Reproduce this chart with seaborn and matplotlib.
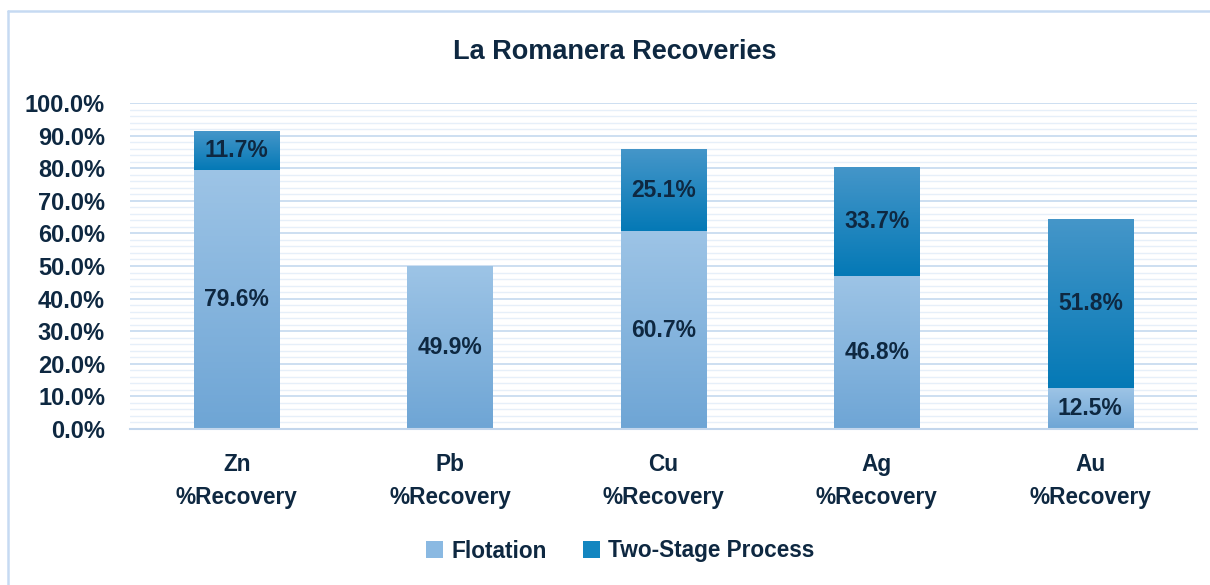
import numpy as np
import matplotlib
matplotlib.use("Agg")
import matplotlib.pyplot as plt
import seaborn as sns
from matplotlib.colors import LinearSegmentedColormap
from matplotlib.patches import Patch
from matplotlib.lines import Line2D
from matplotlib.ticker import MultipleLocator, PercentFormatter

# Data
categories = ["Zn\n%Recovery", "Pb\n%Recovery", "Cu\n%Recovery", "Ag\n%Recovery", "Au\n%Recovery"]
flotation = [79.6, 49.9, 60.7, 46.8, 12.5]
two_stage = [11.7, 0.0, 25.1, 33.7, 51.8]
series_names = ["Flotation", "Two-Stage Process"]

totals = [f + t for f, t in zip(flotation, two_stage)]

navy = "#0e2841"
flot_top, flot_bot = "#9dc4e6", "#6ea5d5"
two_top, two_bot = "#4596c9", "#0479b6"

sns.set_theme(style="white")
plt.rcParams["font.family"] = ["Liberation Sans", "DejaVu Sans"]
plt.rcParams["font.weight"] = "bold"

fig = plt.figure(figsize=(12.1, 5.85), dpi=100)
ax = fig.add_axes([130 / 1210, 1 - 429 / 585, (1197 - 130) / 1210, (429 - 103) / 585])

# stacked bars: totals underneath, flotation on top of it
sns.barplot(x=categories, y=totals, color=two_bot, width=0.4, saturation=1, ax=ax, zorder=2)
sns.barplot(x=categories, y=flotation, color=flot_bot, width=0.4, saturation=1, ax=ax, zorder=3)

# vertical gradients, like the Excel fill
def shade(patch, y0, y1, c_top, c_bot, z):
    if y1 - y0 <= 0:
        patch.set_visible(False)
        return
    cmap = LinearSegmentedColormap.from_list("g", [c_bot, c_top])
    x = patch.get_x()
    w = patch.get_width()
    grad = np.linspace(0, 1, 256).reshape(-1, 1)
    im = ax.imshow(grad, extent=[x, x + w, y0, y1], origin="lower", aspect="auto",
                   cmap=cmap, zorder=z, interpolation="bicubic")
    im.set_clip_path(patch)
    patch.set_alpha(0)

n = len(categories)
for i, p in enumerate(ax.containers[0]):
    shade(p, flotation[i], totals[i], two_top, two_bot, 2)
for i, p in enumerate(ax.containers[1]):
    shade(p, 0, flotation[i], flot_top, flot_bot, 3)

# data labels
for i in range(n):
    ax.text(i, flotation[i] / 2, f"{flotation[i]:.1f}%", ha="center", va="center",
            fontsize=16.5, fontweight="bold", color=navy, zorder=5)
    if two_stage[i] > 0:
        ax.text(i, flotation[i] + two_stage[i] / 2, f"{two_stage[i]:.1f}%", ha="center",
                va="center", fontsize=16.5, fontweight="bold", color=navy, zorder=5)

ax.set_xlim(-0.5, n - 0.5)
ax.set_ylim(0, 100)
ax.yaxis.set_major_locator(MultipleLocator(10))
ax.yaxis.set_minor_locator(MultipleLocator(2))
ax.yaxis.set_major_formatter(PercentFormatter(decimals=1))
ax.grid(which="major", axis="y", color="#c9dcf0", linewidth=1.3, zorder=0)
ax.grid(which="minor", axis="y", color="#e6eff9", linewidth=1.0, zorder=0)
ax.set_axisbelow(True)
ax.tick_params(axis="y", which="both", length=0, pad=18, labelsize=17, labelcolor=navy)
ax.tick_params(axis="x", length=0, pad=17, labelsize=16.3, labelcolor=navy)
for lab in ax.get_xticklabels():
    lab.set_linespacing(1.6)
    lab.set_fontweight("bold")
for lab in ax.get_yticklabels():
    lab.set_fontweight("bold")
for s in ["top", "right", "left"]:
    ax.spines[s].set_visible(False)
ax.spines["bottom"].set_color("#c3d6ec")
ax.spines["bottom"].set_linewidth(1.5)
ax.spines["bottom"].set_zorder(4)
ax.set_xlabel("")
ax.set_ylabel("")

fig.text(615 / 1210, 1 - 52 / 585, "La Romanera Recoveries", ha="center", va="center",
         fontsize=19.5, fontweight="bold", color=navy)

handles = [Patch(facecolor="#8ab9e2", edgecolor="none"), Patch(facecolor="#1386c0", edgecolor="none")]
fig.legend(handles, series_names, loc="center", bbox_to_anchor=(620 / 1210, 1 - 551 / 585),
           ncol=2, frameon=False, labelcolor=navy, handlelength=0.75,
           handleheight=0.75, handletextpad=0.35, columnspacing=1.6,
           prop={"weight": "bold", "size": 16.3})

# chart area border (left and top edges visible)
border = "#c6daf2"
fig.add_artist(Line2D([8 / 1210, 8 / 1210], [0, 1 - 11 / 585], transform=fig.transFigure,
                      color=border, linewidth=1.8))
fig.add_artist(Line2D([8 / 1210, 1], [1 - 11 / 585, 1 - 11 / 585], transform=fig.transFigure,
                      color=border, linewidth=1.8))

fig.savefig("out.png", dpi=100)
